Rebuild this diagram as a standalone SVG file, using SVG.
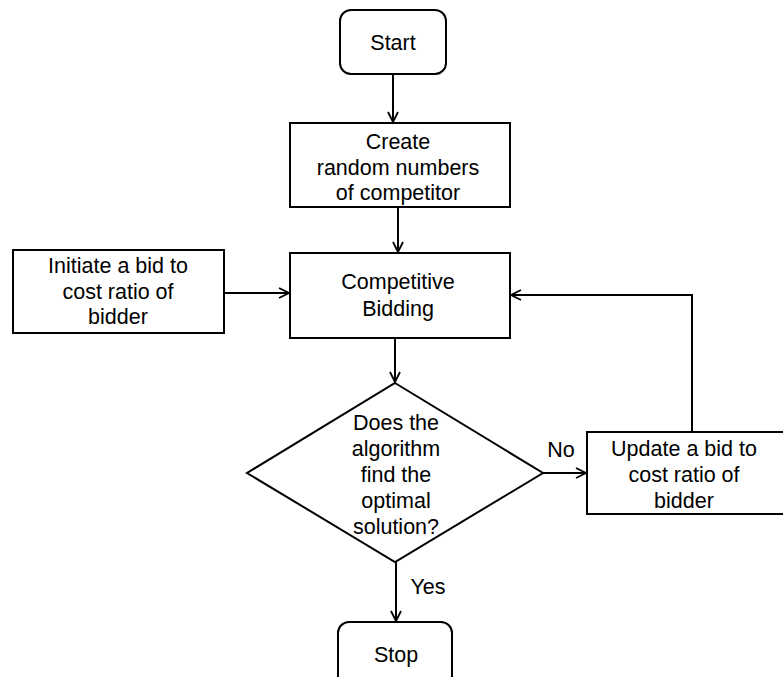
<svg xmlns="http://www.w3.org/2000/svg" width="783" height="677" viewBox="0 0 783 677">
<defs>
<style>
.box{fill:#fff;stroke:#000;stroke-width:2}
.ln{fill:none;stroke:#000;stroke-width:2}
text{font-family:"Liberation Sans",Arial,sans-serif;font-size:21.5px;fill:#000;text-anchor:middle}
</style>
<marker id="ah" viewBox="0 0 12 12" refX="11" refY="6" markerWidth="12" markerHeight="12" markerUnits="userSpaceOnUse" orient="auto">
<path d="M1,1 L11,6 L1,11" fill="none" stroke="#000" stroke-width="1.8"/>
</marker>
</defs>
<rect width="783" height="677" fill="#fff"/>
<g id="connectors">
<line class="ln" x1="393" y1="74" x2="393" y2="122" marker-end="url(#ah)"/>
<line class="ln" x1="398" y1="207" x2="398" y2="252" marker-end="url(#ah)"/>
<line class="ln" x1="224" y1="293" x2="289" y2="293" marker-end="url(#ah)"/>
<line class="ln" x1="395" y1="338" x2="395" y2="382" marker-end="url(#ah)"/>
<line class="ln" x1="543" y1="473" x2="586" y2="473" marker-end="url(#ah)"/>
<polyline class="ln" points="692,432 692,295 511,295" marker-end="url(#ah)"/>
<line class="ln" x1="396" y1="562" x2="396" y2="621" marker-end="url(#ah)"/>
<text x="561" y="457">No</text>
<text x="428" y="594">Yes</text>
</g>
<g id="start">
<rect class="box" x="340" y="10" width="106" height="64" rx="11"/>
<text x="393" y="50">Start</text>
</g>
<g id="create">
<rect class="box" x="290" y="123" width="220" height="84"/>
<text x="398" y="149">Create</text>
<text x="398" y="175">random numbers</text>
<text x="398" y="200">of competitor</text>
</g>
<g id="initiate">
<rect class="box" x="13" y="250" width="211" height="83"/>
<text x="118" y="273">Initiate a bid to</text>
<text x="118" y="299">cost ratio of</text>
<text x="118" y="324">bidder</text>
</g>
<g id="competitive">
<rect class="box" x="290" y="253" width="220" height="85"/>
<text x="398" y="289">Competitive</text>
<text x="398" y="316">Bidding</text>
</g>
<g id="decision">
<polygon class="box" points="395,383 543,473 395,562 247,473"/>
<text x="396" y="430">Does the</text>
<text x="396" y="456">algorithm</text>
<text x="396" y="482">find the</text>
<text x="396" y="508">optimal</text>
<text x="396" y="534">solution?</text>
</g>
<g id="update">
<rect class="box" x="587" y="432" width="200" height="82"/>
<text x="684" y="456">Update a bid to</text>
<text x="684" y="482">cost ratio of</text>
<text x="684" y="508">bidder</text>
</g>
<g id="stop">
<rect class="box" x="338" y="622" width="114" height="70" rx="11"/>
<text x="396" y="662">Stop</text>
</g>
</svg>
